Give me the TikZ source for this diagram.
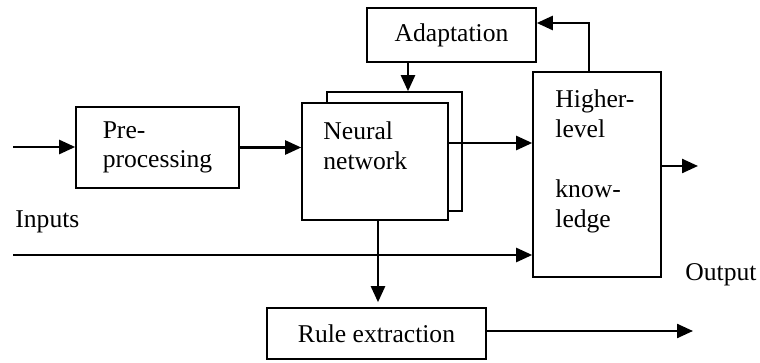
\documentclass[tikz,border=0pt]{standalone}
\usepackage{fontspec}
\setmainfont{Liberation Serif}
\usetikzlibrary{arrows.meta}

\tikzset{
  blockbox/.style={draw, line width=0.8pt, fill=white, inner sep=0pt, align=left, font=\fontsize{12.8}{14.5}\selectfont},
  plaintext/.style={inner sep=0pt, align=left, font=\fontsize{12.8}{15}\selectfont},
  flow/.style={line width=1.2pt, -{Triangle[length=8pt,width=7pt]}}
}

\begin{document}
\begin{tikzpicture}[x=0.5pt,y=0.5pt,yscale=-1,xscale=1]
\useasboundingbox (0,0) rectangle (760,363);
%Shape: Rectangle [pre-processing]
\node[blockbox, minimum width=81.5pt, minimum height=40.5pt] (pre) at (157.5,147.5) {Pre-\\processing};
%Shape: Rectangle [neural network, back copy]
\node[blockbox, minimum width=67.5pt, minimum height=59.5pt] (nnback) at (394.5,151.5) {};
%Shape: Rectangle [neural network]
\node[blockbox, minimum width=73pt, minimum height=58.5pt] (nn) at (375,161.5) {};
%Shape: Rectangle [adaptation]
\node[blockbox, minimum width=84.5pt, minimum height=27pt] (adapt) at (451.5,35) {Adaptation};
%Shape: Rectangle [higher-level knowledge]
\node[blockbox, minimum width=64pt, minimum height=102.5pt] (hlk) at (597,174.5) {};
%Shape: Rectangle [rule extraction]
\node[blockbox, minimum width=109.5pt, minimum height=25.5pt] (rule) at (376.5,333.5) {Rule extraction};

% free ends
\coordinate (in1) at (13,147);
\coordinate (in2) at (13,255);
\coordinate (adin) at (408,62);
\coordinate (out1) at (698,166);
\coordinate (out2) at (693,331);

%Straight Lines [inputs]
\draw[flow] (in1) -- (in1 -| pre.west);
\draw[flow] (in2) -- (in2 -| hlk.west);
%Straight Lines [between blocks]
\draw[flow] (pre.east) -- (pre.east -| nn.west);
\draw[flow] (adapt.south -| adin) -- (adin |- nnback.north);
\draw[flow] ([yshift=-9.25pt]nn.east) -- ([yshift=-9.25pt]nn.east -| hlk.west);
\draw[flow] ([xshift=-4pt]hlk.north) |- ([yshift=-6pt]adapt.east);
\draw[flow, shorten >=2.5pt] ([xshift=1.5pt]nn.south) -- ([xshift=1.5pt]nn.south |- rule.north);
%Straight Lines [outputs]
\draw[flow] (hlk.east |- out1) -- (out1);
\draw[flow] (rule.east |- out2) -- (out2);

% Text Node
\node[plaintext, anchor=north west] (nntext) at (323,121) {Neural\\network};
% Text Node
\node[plaintext, anchor=north west] (hlktext) at (555,89) {Higher-\\level\\[15pt]know-\\ledge};
% Text Node
\node[plaintext, anchor=north west] (inlabel) at (15,210) {Inputs};
% Text Node
\node[plaintext, anchor=north west] (outlabel) at (685,263) {Output};
\end{tikzpicture}
\end{document}
